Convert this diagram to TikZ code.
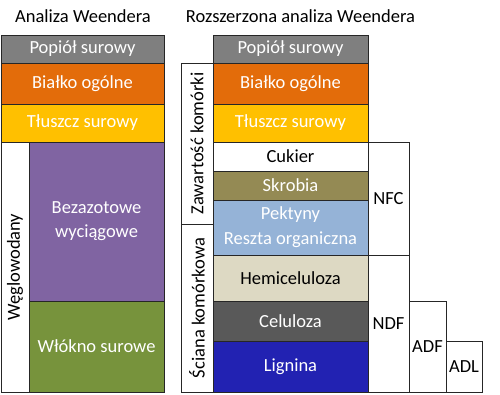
\documentclass[tikz,border=0pt]{standalone}
\usepackage{fontspec}
\setmainfont{Carlito}
\definecolor{cash}{HTML}{7F7F7F}
\definecolor{cprot}{HTML}{E36C0A}
\definecolor{cfat}{HTML}{FFC000}
\definecolor{cbez}{HTML}{8064A2}
\definecolor{cfib}{HTML}{77933C}
\definecolor{cskr}{HTML}{948A54}
\definecolor{cpek}{HTML}{95B3D7}
\definecolor{chem}{HTML}{DDD9C3}
\definecolor{ccel}{HTML}{595959}
\definecolor{clig}{HTML}{2222B2}
\definecolor{cline}{HTML}{262626}
\tikzset{
  blk/.style={draw=cline, line width=0.9pt, inner sep=0pt, outer sep=0pt, align=center,
    font=\fontsize{18.5}{22}\selectfont},
  wtxt/.style={text=white},
  rot/.style={rotate=90, inner sep=0pt, font=\fontsize{18.5}{22}\selectfont},
  title/.style={inner sep=0pt, anchor=base, font=\fontsize{18.5}{22}\selectfont}
}
% \bx{name}{x1}{y1}{x2}{y2}{options}{text}
\newcommand{\bx}[7]{%
  \node[blk, #6, minimum width={(#4-#2)*1pt}, minimum height={(#5-#3)*1pt}]
    (#1) at ({(#2+#4)/2}, {(#3+#5)/2}) {#7};}
\begin{document}
\begin{tikzpicture}[x=1pt, y=-1pt]
\useasboundingbox (0,0) rectangle (500,394);
% titles
\node[title] (t1) at (83,22) {Analiza Weendera};
\node[title] (t2) at (300.5,22) {Rozszerzona analiza Weendera};
% left column
\bx{la}{1}{35}{164}{63}{fill=cash, wtxt}{Popiół surowy}
\bx{lb}{1}{63}{164}{104}{fill=cprot, wtxt}{Białko ogólne}
\bx{lt}{1}{104}{164}{142}{fill=cfat, wtxt}{Tłuszcz surowy}
\bx{lw}{1}{142}{29}{392}{fill=white}{}
\node[rot] (lwt) at (lw.center) {Węglowodany};
\bx{lbz}{29}{142}{164}{301}{fill=cbez, wtxt}{Bezazotowe\\[2pt]wyciągowe}
\bx{lf}{29}{301}{164}{392}{fill=cfib, wtxt}{Włókno surowe}
% right side labels
\bx{rz}{181}{63}{213}{224}{fill=white}{}
\node[rot] (rzt) at (rz.center) {Zawartość komórki};
\bx{rs}{181}{224}{213}{392}{fill=white}{}
\node[rot] (rst) at (rs.center) {Ściana komórkowa};
% right column
\bx{ra}{213}{35}{368}{63}{fill=cash, wtxt}{Popiół surowy}
\bx{rb}{213}{63}{368}{104}{fill=cprot, wtxt}{Białko ogólne}
\bx{rt}{213}{104}{368}{142}{fill=cfat, wtxt}{Tłuszcz surowy}
\bx{rc}{213}{142}{368}{171}{fill=white}{Cukier}
\bx{rk}{213}{171}{368}{200}{fill=cskr, wtxt}{Skrobia}
\bx{rp}{213}{200}{368}{255}{fill=cpek, wtxt}{Pektyny\\[3pt]Reszta organiczna}
\bx{rh}{213}{255}{368}{301}{fill=chem}{Hemiceluloza}
\bx{rcl}{213}{301}{368}{341}{fill=ccel, wtxt}{Celuloza}
\bx{rl}{213}{341}{368}{392}{fill=clig, wtxt}{Lignina}
% fractions
\bx{nfc}{368}{142}{409}{255}{fill=white}{NFC}
\bx{ndf}{368}{255}{409}{392}{fill=white}{NDF}
\bx{adf}{409}{301}{446}{392}{fill=white}{ADF}
\bx{adl}{446}{341}{482}{392}{fill=white}{ADL}
\end{tikzpicture}
\end{document}
